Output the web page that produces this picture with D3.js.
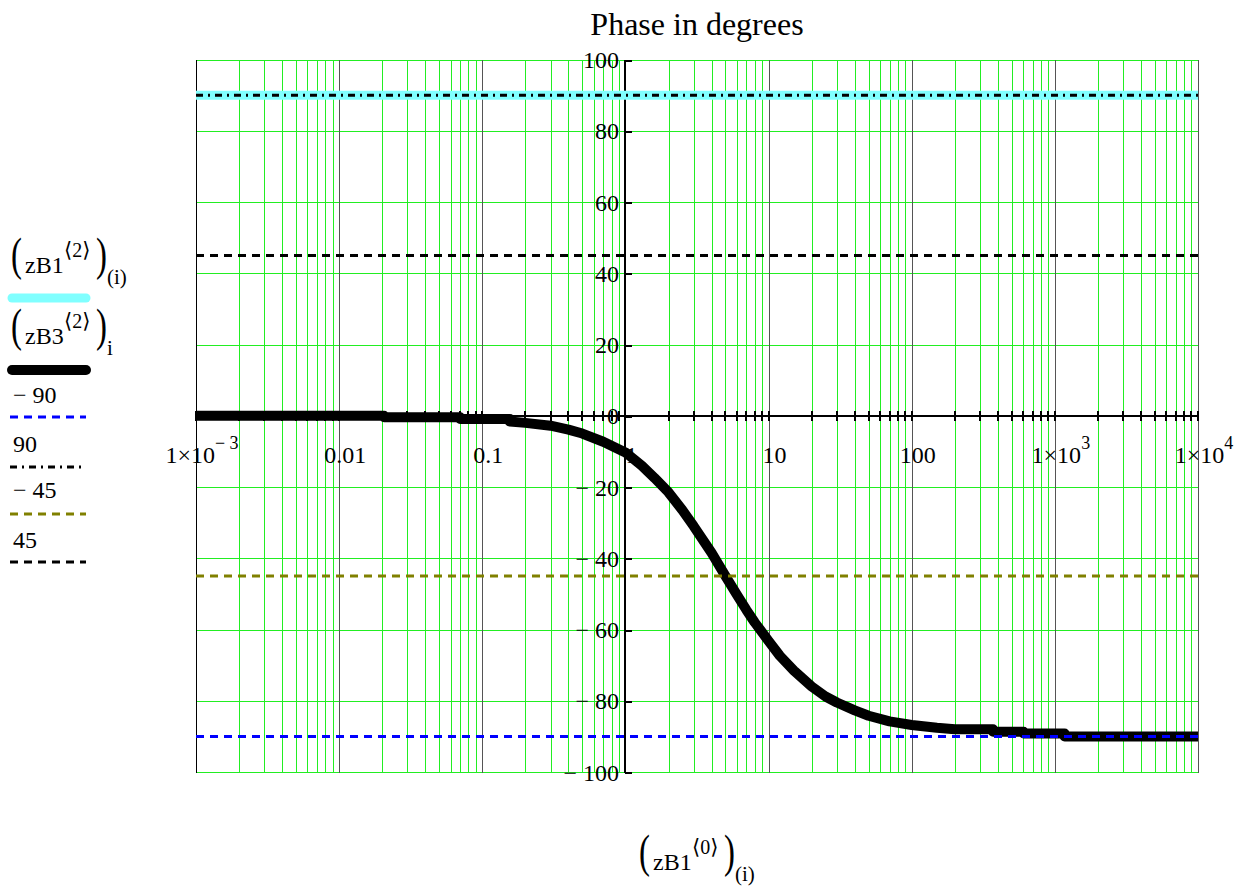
<!DOCTYPE html>
<html>
<head>
<meta charset="utf-8">
<script src="https://cdn.jsdelivr.net/npm/d3@7"></script>
<style>
  html, body { margin: 0; padding: 0; background: #fff; }
  svg text { font-family: "Liberation Serif", "Times New Roman", serif; fill: #000; }
</style>
</head>
<body>
<svg id="chart" width="1249" height="887"></svg>
<script>
// Frequency axis (log) and phase axis limits
const xDomain = [1e-3, 1e4];
const yDomain = [-100, 100];

// Trace zB1<2>: constant +90 deg
const zB1Freq = [1e-3, 1e4];
const zB1Phase = [90, 90];

// Trace zB3<2>: first-order lag phase, sampled values
const zB3Freq = [0.001, 0.0206, 0.0206, 0.07, 0.07, 0.156, 0.156, 0.2, 0.3, 0.4, 0.5, 0.7, 1, 1.3, 1.6, 2, 2.5, 3, 4, 5, 6, 7, 8, 10, 12, 15, 20, 25, 30, 40, 50, 70, 100, 150, 200, 370, 370, 605, 605, 1170, 1170, 10000];
const zB3Phase = [0, 0, -0.4, -0.4, -0.9, -0.9, -1.6, -2.0, -2.8, -3.9, -5.0, -7.3, -10.3, -14.0, -17.5, -21.5, -26.5, -31.0, -38.5, -45.0, -50.2, -54.5, -58.0, -63.2, -67.4, -71.5, -76.0, -78.8, -80.5, -82.7, -84.2, -85.8, -86.8, -87.6, -88.0, -88.0, -88.7, -88.7, -89.2, -89.2, -90.0, -90.0];

// Reference levels
const refLevels = [-90, 90, -45, 45];
const refColors = ["#0000ff", "#000000", "#808000", "#000000"];
const refDash = ["8,6", "7,5,2,5", "8,6", "8,6"];
const refLabels = ["\u2212 90", "90", "\u2212 45", "45"];

// Tick labels
const xTickValues = [1e-3, 0.01, 0.1, 1, 10, 100, 1e3, 1e4];
const xTickMain = ["1\u00d710", "0.01", "0.1", "1", "10", "100", "1\u00d710", "1\u00d710"];
const xTickExp = ["\u2212 3", "", "", "", "", "", "3", "4"];
const yTickValues = [-100, -80, -60, -40, -20, 0, 20, 40, 60, 80, 100];

const svg = d3.select("#chart");
const x = d3.scaleLog().domain(xDomain).range([196, 1198]);
const y = d3.scaleLinear().domain(yDomain).range([772, 59.5]);
const px = v => Math.round(v) + 0.5;

// Grid: minor verticals green, decades dark, horizontals green
const gx = svg.append("g");
const allX = x.ticks();
gx.selectAll("line.minor").data(allX.filter(v => !xTickValues.includes(v)))
  .join("line")
  .attr("x1", d => px(x(d))).attr("x2", d => px(x(d)))
  .attr("y1", y(100)).attr("y2", y(-100))
  .attr("stroke", "#22ee22").attr("stroke-width", 1).attr("shape-rendering", "crispEdges");
gx.selectAll("line.hz").data(yTickValues)
  .join("line")
  .attr("x1", x(1e-3)).attr("x2", x(1e4) + 1)
  .attr("y1", d => px(y(d))).attr("y2", d => px(y(d)))
  .attr("stroke", "#22ee22").attr("stroke-width", 1).attr("shape-rendering", "crispEdges");
gx.selectAll("line.dec").data(xTickValues.filter(v => v !== 1))
  .join("line")
  .attr("x1", d => px(x(d))).attr("x2", d => px(x(d)))
  .attr("y1", y(100)).attr("y2", y(-100) + 1)
  .attr("stroke", (d, i) => i === 0 ? "#000" : "#555").attr("stroke-width", 1).attr("shape-rendering", "crispEdges");

// Axes through the origin (x = 1, phase = 0)
const ax = svg.append("g");
const y0 = Math.round(y(0));
const x1 = Math.round(x(1));
ax.append("line").attr("x1", x(1e-3)).attr("x2", x(1e4) + 1).attr("y1", y0).attr("y2", y0)
  .attr("stroke", "#000").attr("stroke-width", 2).attr("shape-rendering", "crispEdges");
ax.selectAll("line.xt").data(allX).join("line")
  .attr("x1", d => Math.round(x(d))).attr("x2", d => Math.round(x(d)))
  .attr("y1", y0 - 5).attr("y2", y0 + 5)
  .attr("stroke", "#000").attr("stroke-width", 2).attr("shape-rendering", "crispEdges");
ax.append("line").attr("x1", x1).attr("x2", x1).attr("y1", y(100)).attr("y2", y(-100) + 1)
  .attr("stroke", "#000").attr("stroke-width", 2).attr("shape-rendering", "crispEdges");
ax.selectAll("line.yt").data(yTickValues).join("line")
  .attr("x1", x1).attr("x2", x1 + 7)
  .attr("y1", d => px(y(d))).attr("y2", d => px(y(d)))
  .attr("stroke", "#000").attr("stroke-width", 2).attr("shape-rendering", "crispEdges");

// Tick labels
const xl = svg.append("g").attr("font-size", 24).attr("text-anchor", "middle");
xTickValues.forEach((v, i) => {
  const t = xl.append("text").attr("x", x(v) + 6).attr("y", 463).text(xTickMain[i]);
  if (xTickExp[i]) {
    t.append("tspan").attr("dy", -14).attr("font-size", 18).text(xTickExp[i]);
  }
});
svg.append("g").attr("font-size", 24).attr("text-anchor", "end")
  .selectAll("text").data(yTickValues).join("text")
  .attr("x", 619).attr("y", d => y(d) + 8.5)
  .text(d => d < 0 ? "\u2212 " + Math.abs(d) : String(d));

// Title
svg.append("text").attr("x", 697).attr("y", 35).attr("text-anchor", "middle")
  .attr("font-size", 32).text("Phase in degrees");

// Traces
const line = d3.line().x(d => x(d[0])).y(d => y(d[1]));
svg.append("path").datum(d3.zip(zB1Freq, zB1Phase)).attr("d", line)
  .attr("fill", "none").attr("stroke", "#80ffff").attr("stroke-width", 9);
svg.append("path").datum(d3.zip(zB3Freq, zB3Phase)).attr("d", line)
  .attr("fill", "none").attr("stroke", "#000").attr("stroke-width", 10).attr("stroke-linejoin", "round");
refLevels.forEach((lv, i) => {
  svg.append("path").datum([[xDomain[0], lv], [xDomain[1], lv]]).attr("d", line)
    .attr("fill", "none").attr("stroke", refColors[i]).attr("stroke-width", 3)
    .attr("stroke-dasharray", refDash[i]);
});

// Mathcad-style expression: (name<sup>)sub with tall parentheses
function expr(g, xx, base, name, sup, sub) {
  g.append("text").attr("transform", `translate(${xx},${base - 3}) scale(0.7,1)`)
    .attr("font-size", 47).text("(");
  g.append("text").attr("x", xx + 14).attr("y", base).attr("font-size", 24).text(name);
  const s = g.append("text").attr("x", xx + 53).attr("y", base - 16).attr("font-size", 20);
  s.append("tspan").attr("font-family", "DejaVu Serif, serif").attr("font-size", 21).text("\u27e8");
  s.append("tspan").text(sup);
  s.append("tspan").attr("font-family", "DejaVu Serif, serif").attr("font-size", 21).text("\u27e9");
  g.append("text").attr("transform", `translate(${xx + 85},${base - 3}) scale(0.7,1)`)
    .attr("font-size", 47).text(")");
  g.append("text").attr("x", xx + 96).attr("y", base + 11).attr("font-size", 21).text(sub);
}

// Legend
const lg = svg.append("g").attr("font-size", 24);
expr(lg, 11, 273, "zB1", "2", "(i)");
lg.append("line").attr("x1", 12).attr("x2", 86).attr("y1", 298).attr("y2", 298)
  .attr("stroke", "#80ffff").attr("stroke-width", 9).attr("stroke-linecap", "round");
expr(lg, 11, 344, "zB3", "2", "i");
lg.append("line").attr("x1", 12).attr("x2", 86).attr("y1", 370).attr("y2", 370)
  .attr("stroke", "#000").attr("stroke-width", 10).attr("stroke-linecap", "round");
const lgBase = [403, 452, 498, 548];
const lgLineY = [417, 467, 514, 562];
refLevels.forEach((lv, i) => {
  lg.append("text").attr("x", 13).attr("y", lgBase[i]).text(refLabels[i]);
  lg.append("line").attr("x1", 10).attr("x2", 86).attr("y1", lgLineY[i]).attr("y2", lgLineY[i])
    .attr("stroke", refColors[i]).attr("stroke-width", 3).attr("stroke-dasharray", refDash[i]);
});

// X axis title
expr(svg.append("g"), 639, 870, "zB1", "0", "(i)");
</script>
</body>
</html>
